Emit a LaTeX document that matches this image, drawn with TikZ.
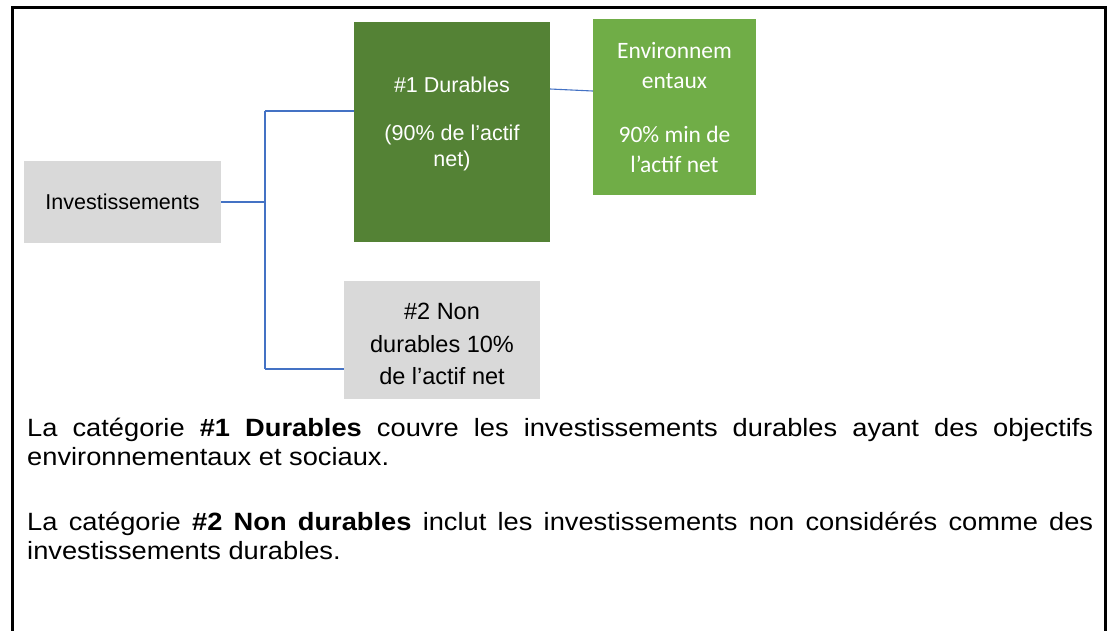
\documentclass[tikz,border=0pt]{standalone}
\usepackage{fontspec}
\setmainfont{Liberation Sans}
\newfontfamily\calibri{Carlito}
\newfontfamily\parafont{Liberation Sans}[FakeStretch=1.09]
\usetikzlibrary{positioning}
\hyphenpenalty=10000
\exhyphenpenalty=10000
\tolerance=9999

\definecolor{darkgreen}{HTML}{548235}
\definecolor{lightgreen}{HTML}{70AD47}
\definecolor{boxgrey}{HTML}{D9D9D9}
\definecolor{linkblue}{HTML}{4472C4}

\tikzset{
	greybox/.style={fill=boxgrey, inner sep=0pt, align=center, font=\fontsize{21.5}{31}\selectfont},
	greenbox/.style={fill=#1, inner sep=0pt, align=center, text=white},
	link/.style={draw=linkblue, line width=1.1pt},
	para/.style={anchor=north west, inner sep=0pt, text width=1066pt, align=justify, font=\parafont\fontsize{25}{28.5}\selectfont}
}

\begin{document}
\begin{tikzpicture}[x=1pt, y=-1pt]
				\useasboundingbox (0,0) rectangle (1110,630);
				% Frame
				\draw[line width=3pt] (12,650) -- (12,7) -- (1105,7) -- (1105,650);

				% Boxes
				\node[greybox, minimum width=197pt, minimum height=82pt] (inv) at (122.5,202) {Investissements};
				\node[greenbox=darkgreen, minimum width=196pt, minimum height=220pt, font=\fontsize{21.5}{26}\selectfont] (dur) at (452,132) {\#1 Durables\\[22pt](90\% de l’actif\\net)\\[-6pt]\mbox{}};
				\node[greenbox=lightgreen, minimum width=163pt, minimum height=176pt, font=\calibri\fontsize{23.5}{30}\selectfont] (env) at (674.5,107) {Environnem\\entaux\\[24pt]90\% min de\\l’actif net};
				\node[greybox, minimum width=196pt, minimum height=118pt, font=\fontsize{23.5}{32.5}\selectfont] (non) at (442,340) {\mbox{}\\[-7.5pt]\#2 Non\\durables 10\%\\de l’actif net};

				% Links
				\coordinate (trunktop) at (265,111);
				\coordinate (trunkbot) at (265,369);
				\draw[link] (inv.east) -- (inv.east -| trunktop);
				\draw[link] (trunktop) -- (trunkbot);
				\draw[link] (trunktop) -- (trunktop -| dur.west);
				\draw[link] (trunkbot) -- (trunkbot -| non.west);
				\draw[link] ([yshift=43pt]dur.east) -- ([yshift=16pt]env.west);

				% Text
				\node[para] (durtext) at (27,418) {La catégorie \textbf{\#1 Durables} couvre les investissements durables ayant des objectifs environnementaux et sociaux.};
				\node[para] (nontext) at (27,512) {La catégorie \textbf{\#2 Non durables} inclut les investissements non considérés comme des investissements durables.};
\end{tikzpicture}
\end{document}
